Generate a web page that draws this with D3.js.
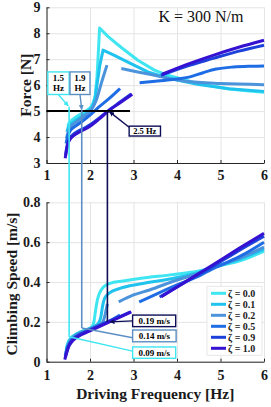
<!DOCTYPE html>
<html><head><meta charset="utf-8">
<script src="https://cdn.jsdelivr.net/npm/d3@7"></script>
<style>
html,body{margin:0;padding:0;background:#fff;}
svg text{font-family:"Liberation Serif","Times New Roman",serif;}
</style></head>
<body><svg id="c" width="271" height="407"></svg>
<script>
// ---------- data ----------
const freqTicks = [1, 2, 3, 4, 5, 6];
const forceTicks = [3, 4, 5, 6, 7, 8, 9];
const speedTicks = [0, 0.2, 0.4, 0.6, 0.8];
const speedTickLabels = ["0", "0.2", "0.4", "0.6", "0.8"];
const zetaLabels = ["ζ = 0.0", "ζ = 0.1", "ζ = 0.2", "ζ = 0.5", "ζ = 0.9", "ζ = 1.0"];

// Force [N] vs frequency [Hz], branches per damping ratio
const forceZ00 = [[[1.49,4.42],[1.52,4.55],[1.6,4.68],[1.7,4.8],[1.8,4.9],[1.9,5.0],[2.0,5.12],[2.07,5.3],[2.12,5.6],[2.16,6.3],[2.19,7.2],[2.22,8.2],[2.41,7.88],[2.72,7.45],[3.1,6.96],[3.48,6.58],[3.79,6.38],[4.25,6.17],[4.5,6.05],[5.2,5.85],[5.6,5.78],[6.0,5.73]]];
const forceZ01 = [[[1.47,4.2],[1.5,4.38],[1.55,4.5],[1.7,4.68],[1.9,4.9],[2.05,5.15],[2.12,5.5],[2.16,6.0],[2.23,6.8],[2.3,7.35],[2.56,7.15],[2.94,6.83],[3.33,6.51],[3.71,6.32],[4.0,6.2],[4.5,6.02],[5.2,5.86],[6.0,5.76]]];
const forceZ02 = [[[1.46,3.95],[1.5,4.22],[1.56,4.4],[1.7,4.6],[1.9,4.85],[2.05,5.1],[2.15,5.45],[2.27,6.13],[2.39,6.77]],
                  [[2.72,6.64],[3.1,6.51],[3.48,6.38],[3.79,6.26],[4.2,6.15],[5.0,6.06],[6.0,6.02]]];
const forceZ05 = [[[1.45,3.75],[1.49,4.05],[1.55,4.25],[1.65,4.4],[1.8,4.58],[2.0,4.85],[2.2,5.15],[2.45,5.5],[2.69,5.87]],
                  [[3.14,6.09],[3.5,6.15],[3.9,6.22],[4.3,6.32],[4.6,6.48],[4.9,6.62],[5.3,6.7],[5.7,6.73],[6.0,6.74]]];
const forceZ09 = [[[1.44,3.3],[1.47,3.65],[1.52,3.92],[1.6,4.08],[1.7,4.2],[1.85,4.33],[2.0,4.47],[2.2,4.72],[2.42,5.02],[2.7,5.36],[2.95,5.66]],
                  [[3.63,6.38],[4.2,6.72],[4.83,7.03],[5.4,7.3],[6.0,7.54]]];
const forceZ10 = [[[1.43,3.18],[1.46,3.5],[1.51,3.82],[1.6,4.02],[1.7,4.14],[1.85,4.27],[2.0,4.42],[2.2,4.68],[2.42,5.0],[2.7,5.33],[2.97,5.65]],
                  [[3.66,6.42],[4.2,6.78],[4.83,7.15],[5.4,7.45],[6.0,7.73]]];

// Climbing speed [m/s] vs frequency [Hz]
const speedZ00 = [[[1.45,0.065],[1.5,0.1],[1.56,0.12],[1.7,0.14],[1.9,0.155],[2.03,0.17],[2.09,0.2],[2.13,0.26],[2.17,0.31],[2.22,0.345],[2.3,0.372],[2.46,0.393],[2.76,0.405],[3.14,0.418],[3.9,0.437],[4.5,0.455],[4.9,0.477],[5.5,0.51],[6.0,0.555]]];
const speedZ01 = [[[1.45,0.055],[1.5,0.09],[1.56,0.115],[1.7,0.14],[1.9,0.16],[2.1,0.178],[2.2,0.195],[2.25,0.225],[2.29,0.28],[2.34,0.32],[2.45,0.345],[2.69,0.368],[3.14,0.39],[3.9,0.418],[4.5,0.448],[4.9,0.477],[5.5,0.52],[6.0,0.565]]];
const speedZ02 = [[[1.44,0.04],[1.49,0.08],[1.55,0.108],[1.7,0.135],[1.9,0.155],[2.1,0.175],[2.27,0.192],[2.33,0.22],[2.37,0.26],[2.4,0.29]],
                  [[2.66,0.3],[3.0,0.335],[3.37,0.36],[4.0,0.41],[4.5,0.443],[4.9,0.477],[5.5,0.525],[6.0,0.575]]];
const speedZ05 = [[[1.43,0.03],[1.48,0.07],[1.55,0.1],[1.7,0.13],[1.9,0.15],[2.1,0.17],[2.3,0.19],[2.5,0.21],[2.69,0.234]],
                  [[3.13,0.3],[3.5,0.337],[4.0,0.385],[4.5,0.43],[4.9,0.474],[5.5,0.535],[6.0,0.6]]];
const speedZ09 = [[[1.43,0.02],[1.48,0.06],[1.53,0.09],[1.6,0.11],[1.8,0.14],[2.0,0.16],[2.2,0.18],[2.4,0.2],[2.7,0.228],[2.93,0.25]],
                  [[3.6,0.325],[4.2,0.4],[4.8,0.475],[5.4,0.555],[6.0,0.63]]];
const speedZ10 = [[[1.42,0.01],[1.47,0.05],[1.52,0.08],[1.6,0.105],[1.8,0.135],[2.0,0.155],[2.2,0.175],[2.4,0.195],[2.7,0.225],[2.95,0.25]],
                  [[3.64,0.326],[4.2,0.402],[4.8,0.483],[5.4,0.565],[6.0,0.645]]];

// annotations (data units)
const refForce = 5;                 // horizontal reference line
const refForceRange = [1, 2.92];
const markFreqs = [1.52, 1.81, 2.4];
const markLabelsHz = ["1.5 Hz", "1.9 Hz", "2.5 Hz"];
const markLabelsSpeed = ["0.09 m/s", "0.14 m/s", "0.19 m/s"];
const markTopForce = [5.17, 5.04, 5.0];
const markBottomSpeed = [0.125, 0.169, 0.2];
// label boxes: [f0, f1, v0, v1]
const hzBoxes = [[1.03, 1.52, 5.64, 6.51], [1.54, 2.0, 5.64, 6.51], [2.9, 3.62, 4.04, 4.42]];
const hzArrows = [[[1.27, 5.64], [1.5, 5.2]], [[1.77, 5.64], [1.81, 5.06]], [[2.9, 4.38], [2.45, 4.97]]];
const speedBoxes = [[2.98, 3.97, 0.017, 0.074], [2.98, 3.98, 0.10, 0.159], [2.98, 3.97, 0.176, 0.234]];
const speedArrows = [[[2.98, 0.053], [1.52, 0.125]], [[2.98, 0.12], [1.81, 0.169]], [[2.98, 0.205], [2.46, 0.2]]];

// ---------- styles ----------
const colors = ["#3fe6f2", "#1fc3ee", "#4b93db", "#1f6de4", "#1c40da", "#3512d2"];
const markColors = ["#3fe6f2", "#5b8fc4", "#0d0d58"];
const forceSeries = [forceZ00, forceZ01, forceZ02, forceZ05, forceZ09, forceZ10];
const speedSeries = [speedZ00, speedZ01, speedZ02, speedZ05, speedZ09, speedZ10];

const svg = d3.select("#c");
const x = d3.scaleLinear().domain([1, 6]).range([46.5, 264]);
const yF = d3.scaleLinear().domain([3, 9]).range([163, 7.3]);
const yS = d3.scaleLinear().domain([0, 0.8]).range([361.7, 202.3]);

// defs: arrowheads
const defs = svg.append("defs");
markColors.forEach((c, i) => {
  defs.append("marker").attr("id", "ah" + i).attr("viewBox", "0 0 10 10")
    .attr("refX", 9).attr("refY", 5).attr("markerWidth", 5).attr("markerHeight", 5)
    .attr("orient", "auto").attr("markerUnits", "userSpaceOnUse")
    .append("path").attr("d", "M0,0L10,5L0,10z").attr("fill", c);
});

function panel(y, yTicks, yFmt) {
  const g = svg.append("g");
  const [y0, y1] = y.range();
  // grid
  g.append("g").attr("transform", `translate(0,${y0})`)
    .call(d3.axisBottom(x).tickValues(freqTicks).tickSize(-(y0 - y1)).tickFormat(""))
    .call(a => { a.select(".domain").remove(); a.selectAll("line").attr("stroke", "#e4e4e4"); });
  g.append("g").attr("transform", `translate(${x.range()[0]},0)`)
    .call(d3.axisLeft(y).tickValues(yTicks).tickSize(-(x.range()[1] - x.range()[0])).tickFormat(""))
    .call(a => { a.select(".domain").remove(); a.selectAll("line").attr("stroke", "#e4e4e4"); });
  return g;
}
function axes(y, yTicks, yFmt, xPad) {
  const [y0] = y.range();
  const gx = svg.append("g").attr("transform", `translate(0,${y0})`)
    .call(d3.axisBottom(x).tickValues(freqTicks).tickSizeInner(-3).tickSizeOuter(0).tickPadding(xPad).tickFormat(d3.format("d")));
  const gy = svg.append("g").attr("transform", `translate(${x.range()[0]},0)`)
    .call(d3.axisLeft(y).tickValues(yTicks).tickSizeInner(-3).tickSizeOuter(0).tickPadding(6).tickFormat(yFmt));
  [gx, gy].forEach(a => {
    a.select(".domain").attr("stroke", "#262626");
    a.selectAll(".tick line").attr("stroke", "#262626");
    a.selectAll("text").attr("font-family", "Liberation Serif, serif").attr("font-weight", "bold")
      .attr("font-size", 14).attr("fill", "#1a1a1a");
  });
}

panel(yF, forceTicks);
panel(yS, speedTicks);

// curves
const peakSeries = new Set([0, 1]);
forceSeries.forEach((branches, i) => {
  const line = d3.line().x(d => x(d[0])).y(d => yF(d[1]))
    .curve(peakSeries.has(i) ? d3.curveLinear : d3.curveMonotoneX);
  branches.forEach(b => svg.append("path").attr("d", line(b)).attr("fill", "none")
    .attr("stroke", colors[i]).attr("stroke-width", 3).attr("stroke-linejoin", "round"));
});
speedSeries.forEach((branches, i) => {
  const line = d3.line().x(d => x(d[0])).y(d => yS(d[1])).curve(d3.curveMonotoneX);
  branches.forEach(b => svg.append("path").attr("d", line(b)).attr("fill", "none")
    .attr("stroke", colors[i]).attr("stroke-width", 3).attr("stroke-linejoin", "round"));
});

axes(yF, forceTicks, d3.format("d"), 7);
axes(yS, speedTicks, (d, i) => speedTickLabels[i], 8);

// reference line
svg.append("line").attr("x1", x(refForceRange[0])).attr("x2", x(refForceRange[1]))
  .attr("y1", yF(refForce)).attr("y2", yF(refForce)).attr("stroke", "#000").attr("stroke-width", 2);

// vertical marker lines across both panels
markFreqs.forEach((f, i) => {
  svg.append("line").attr("x1", x(f)).attr("x2", x(f))
    .attr("y1", yF(markTopForce[i])).attr("y2", yS(markBottomSpeed[i]))
    .attr("stroke", markColors[i]).attr("stroke-width", 1.6);
});
// arrows top
hzArrows.forEach((a, i) => {
  svg.append("line").attr("x1", x(a[0][0])).attr("y1", yF(a[0][1]))
    .attr("x2", x(a[1][0])).attr("y2", yF(a[1][1]))
    .attr("stroke", markColors[i]).attr("stroke-width", 1.4).attr("marker-end", `url(#ah${i})`);
});
// arrows bottom
speedArrows.forEach((a, i) => {
  svg.append("line").attr("x1", x(a[0][0])).attr("y1", yS(a[0][1]))
    .attr("x2", x(a[1][0])).attr("y2", yS(a[1][1]))
    .attr("stroke", markColors[i]).attr("stroke-width", 1.4)
    .attr("marker-end", i === 2 ? `url(#ah${i})` : null);
});
// label boxes top
hzBoxes.forEach((b, i) => {
  const x0 = x(b[0]), x1 = x(b[1]), yT = yF(b[3]), yB = yF(b[2]);
  svg.append("rect").attr("x", x0).attr("y", yT).attr("width", x1 - x0).attr("height", yB - yT)
    .attr("fill", "#fff").attr("stroke", markColors[i]).attr("stroke-width", 1.4);
  const parts = markLabelsHz[i].split(" ");
  const cx = (x0 + x1) / 2;
  if (i < 2) {
    svg.append("text").attr("x", cx).attr("y", yT + 9.5).attr("text-anchor", "middle")
      .attr("font-size", 9).attr("font-weight", "bold").text(parts[0]);
    svg.append("text").attr("x", cx).attr("y", yT + 19.5).attr("text-anchor", "middle")
      .attr("font-size", 9).attr("font-weight", "bold").text(parts[1]);
  } else {
    svg.append("text").attr("x", cx).attr("y", (yT + yB) / 2 + 3).attr("text-anchor", "middle")
      .attr("font-size", 8.5).attr("font-weight", "bold").text(markLabelsHz[i]);
  }
});
// label boxes bottom
speedBoxes.forEach((b, i) => {
  const x0 = x(b[0]), x1 = x(b[1]), yT = yS(b[3]), yB = yS(b[2]);
  svg.append("rect").attr("x", x0).attr("y", yT).attr("width", x1 - x0).attr("height", yB - yT)
    .attr("fill", "#fff").attr("stroke", markColors[i]).attr("stroke-width", 1.4);
  svg.append("text").attr("x", (x0 + x1) / 2).attr("y", (yT + yB) / 2 + 3.2).attr("text-anchor", "middle")
    .attr("font-size", 9).attr("font-weight", "bold").text(markLabelsSpeed[i]);
});

// legend
const lg = svg.append("g");
const lgTop = 293.3, lgStep = 11;
lg.append("rect").attr("x", 207).attr("y", lgTop - 7).attr("width", 55).attr("height", lgStep * 6 + 3)
  .attr("fill", "#fff").attr("stroke", "#e2e2e2").attr("stroke-width", 0.8);
zetaLabels.forEach((t, i) => {
  const yy = lgTop + i * lgStep;
  lg.append("line").attr("x1", 211).attr("x2", 226).attr("y1", yy).attr("y2", yy)
    .attr("stroke", colors[i]).attr("stroke-width", 3);
  lg.append("text").attr("x", 228).attr("y", yy + 3.5).attr("font-size", 10).attr("font-weight", "bold")
    .attr("fill", "#1a1a1a").text(t);
});

// titles
svg.append("text").attr("x", 201).attr("y", 22).attr("text-anchor", "middle")
  .attr("font-size", 16).attr("fill", "#111").text("K = 300 N/m");
svg.append("text").attr("transform", `translate(31,${(yF.range()[0] + yF.range()[1]) / 2}) rotate(-90)`)
  .attr("text-anchor", "middle").attr("font-size", 15.5).attr("font-weight", "bold").attr("fill", "#1a1a1a")
  .text("Force [N]");
svg.append("text").attr("transform", `translate(16.5,${(yS.range()[0] + yS.range()[1]) / 2 + 2}) rotate(-90)`)
  .attr("text-anchor", "middle").attr("font-size", 15.5).attr("font-weight", "bold").attr("fill", "#1a1a1a")
  .text("Climbing Speed [m/s]");
svg.append("text").attr("x", (x.range()[0] + x.range()[1]) / 2).attr("y", 399)
  .attr("text-anchor", "middle").attr("font-size", 15.5).attr("font-weight", "bold").attr("fill", "#1a1a1a")
  .text("Driving Frequency [Hz]");
</script></body></html>
